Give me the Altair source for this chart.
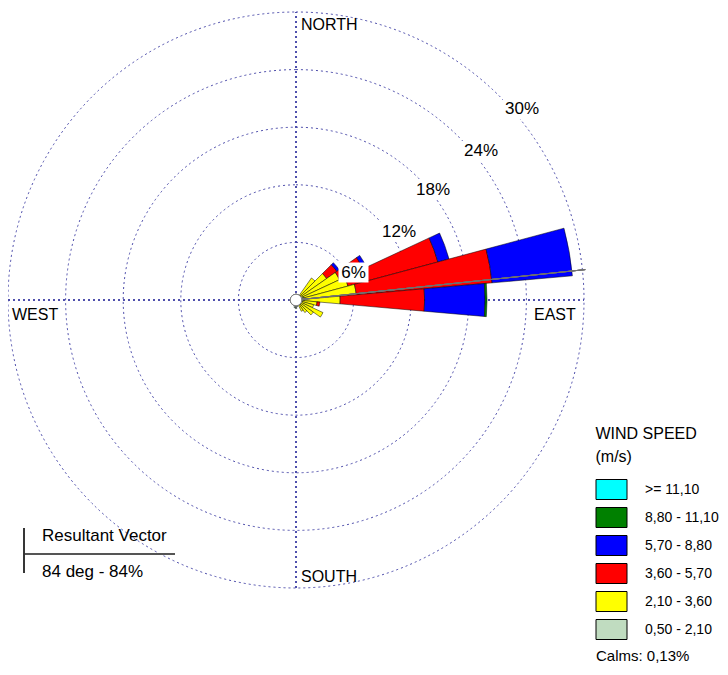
import math
import altair as alt
import pandas as pd

# ---------------- data ----------------
directions = [40, 50, 60, 70, 80, 90, 100, 110, 120, 130, 140, 150, 160, 170, 180, 190]
freq_050_210 = [0.5, 0.5, 0.6, 0.8, 0.9, 0.9, 0.7, 0.6, 0.6, 0.5, 0.5, 0.4, 0.5, 0.7, 0.9, 0.8]
freq_210_360 = [2.3, 3.4, 4.4, 4.8, 5.4, 3.7, 1.5, 1.3, 2.5, 1.7, 1.1, 0.9, 0.0, 0.0, 0.0, 0.0]
freq_360_570 = [0.0, 1.3, 2.7, 9.7, 14.2, 8.8, 0.3, 0.0, 0.0, 0.0, 0.0, 0.0, 0.0, 0.0, 0.0, 0.0]
freq_570_880 = [0.0, 0.3, 0.4, 1.2, 8.4, 6.3, 0.0, 0.0, 0.0, 0.0, 0.0, 0.0, 0.0, 0.0, 0.0, 0.0]
freq_880_1110 = [0.0, 0.0, 0.0, 0.0, 0.0, 0.2, 0.0, 0.0, 0.0, 0.0, 0.0, 0.0, 0.0, 0.0, 0.0, 0.0]
freq_ge_1110 = [0.0] * 16

speed_classes = ["0,50 - 2,10", "2,10 - 3,60", "3,60 - 5,70", "5,70 - 8,80", "8,80 - 11,10", ">= 11,10"]
legend_order = [">= 11,10", "8,80 - 11,10", "5,70 - 8,80", "3,60 - 5,70", "2,10 - 3,60", "0,50 - 2,10"]
legend_colors = ["#00FFFF", "#008000", "#0000FF", "#FF0000", "#FFFF00", "#C0DCC0"]

ring_levels = [6, 12, 18, 24, 30]
ring_texts = ["6%", "12%", "18%", "24%", "30%"]
compass_texts = ["NORTH", "EAST", "SOUTH", "WEST"]
calms_text = "Calms: 0,13%"
resultant_deg = 84
resultant_title = "Resultant Vector"
resultant_text = "84 deg - 84%"
sector_width = 10

# ---------------- build tables ----------------
series = [freq_050_210, freq_210_360, freq_360_570, freq_570_880, freq_880_1110, freq_ge_1110]
rows = []
for i, d in enumerate(directions):
    r0 = 0.0
    for cls, vals in zip(speed_classes, series):
        v = vals[i]
        if v > 0:
            rows.append(dict(dir=d, t1=d - sector_width / 2, t2=d + sector_width / 2,
                             r1=r0, r2=r0 + v, cls=cls))
            r0 += v
wedge_df = pd.DataFrame(rows)
ring_df = pd.DataFrame({"r": ring_levels})

# ---------------- layout ----------------
W, H = 712, 659
PX = 9.6          # pixels per percent
CX, CY = 288, 292  # centre of the rose in plot pixels
FONT = "Liberation Sans"
GRID = "#4B4BAA"

xs = alt.Scale(domain=[-CX / PX, (W - CX) / PX], nice=False, zero=False)
ys = alt.Scale(domain=[-(H - CY) / PX, CY / PX], nice=False, zero=False)
rs = alt.Scale(type="linear", domain=[0, 30], range=[0, 30 * PX], zero=True, nice=False)
ts = alt.Scale(domain=[0, 360], range=[0, 2 * math.pi], nice=False, zero=True)

cx = alt.XDatum(0, type="quantitative", scale=xs, axis=None)
cy = alt.YDatum(0, type="quantitative", scale=ys, axis=None)

rings = alt.Chart(ring_df).mark_arc(
    fillOpacity=0, stroke=GRID, strokeWidth=1, strokeDash=[2, 3]
).encode(
    x=cx, y=cy,
    radius=alt.Radius("r:Q", scale=rs, stack=False),
    theta=alt.ThetaDatum(0, type="quantitative", scale=ts),
    theta2=alt.Theta2Datum(360),
)

rmax = ring_levels[-1]
vline = alt.Chart(ring_df).mark_rule(stroke=GRID, strokeWidth=1, strokeDash=[2, 3]).encode(
    x=cx, y=alt.YDatum(-rmax, type="quantitative", scale=ys, axis=None), y2=alt.Y2Datum(rmax)
)
hline = alt.Chart(ring_df).mark_rule(stroke=GRID, strokeWidth=1, strokeDash=[2, 3]).encode(
    y=cy, x=alt.XDatum(-rmax, type="quantitative", scale=xs, axis=None), x2=alt.X2Datum(rmax)
)

wedges = alt.Chart(wedge_df).mark_arc(stroke="#000000", strokeWidth=0.5).encode(
    x=cx, y=cy,
    theta=alt.Theta("t1:Q", scale=ts, stack=False),
    theta2="t2:Q",
    radius=alt.Radius("r2:Q", scale=rs, stack=False),
    radius2="r1:Q",
    color=alt.Color(
        "cls:N",
        scale=alt.Scale(domain=legend_order, range=legend_colors),
        legend=alt.Legend(
            title=["WIND SPEED", "(m/s)"], orient="none", legendX=587.5, legendY=418,
            titleFont=FONT, titleFontSize=16, titleFontWeight="normal", titleColor="#000000",
            titleLineHeight=23, titlePadding=14,
            labelFont=FONT, labelFontSize=14, labelColor="#000000", labelOffset=28.5, labelLimit=200,
            symbolType="M-1,-1H2.1V1H-1Z", symbolSize=400, symbolStrokeColor="#000000",
            symbolStrokeWidth=1, symbolOpacity=1, rowPadding=3, padding=0,
        ),
    ),
)

res_len = 30.3
rx = res_len * math.sin(math.radians(resultant_deg))
ry = res_len * math.cos(math.radians(resultant_deg))
resultant = alt.Chart(ring_df).mark_rule(stroke="#707070", strokeWidth=1).encode(
    x=cx, y=cy, x2=alt.X2Datum(rx), y2=alt.Y2Datum(ry)
)

calm = alt.Chart(ring_df).mark_arc(fill="#FFFFFF", stroke="#808080", strokeWidth=1).encode(
    x=cx, y=cy,
    radius=alt.RadiusDatum(0.6, type="quantitative", scale=rs),
    theta=alt.ThetaDatum(0, type="quantitative", scale=ts),
    theta2=alt.Theta2Datum(360),
)

layers = [rings, vline, hline, wedges, resultant, calm]

# ring labels with white boxes
ring_pos = [(345.5, 264.5, 15), (391, 224, 19), (425, 182, 19), (473, 143, 19), (514, 101, 19)]
for txt, (px, py, hw) in zip(ring_texts, ring_pos):
    src = pd.DataFrame({"t": [txt]})
    layers.append(alt.Chart(src).mark_rect(fill="#FFFFFF").encode(
        x=alt.value(px - hw), x2=alt.value(px + hw), y=alt.value(py - 10), y2=alt.value(py + 10)))
    layers.append(alt.Chart(src).mark_text(
        font=FONT, fontSize=17, color="#000000", align="center", baseline="middle"
    ).encode(x=alt.value(px), y=alt.value(py), text="t:N"))

# compass labels
compass_pos = [(293, 22), (526, 312), (293, 574), (4, 312)]
for txt, (px, py) in zip(compass_texts, compass_pos):
    layers.append(alt.Chart(pd.DataFrame({"t": [txt]})).mark_text(
        font=FONT, fontSize=16, color="#000000", align="left", baseline="alphabetic"
    ).encode(x=alt.value(px), y=alt.value(py), text="t:N"))

# resultant vector box
layers.append(alt.Chart(pd.DataFrame({"t": [resultant_title]})).mark_text(
    font=FONT, fontSize=17, color="#000000", align="left", baseline="alphabetic"
).encode(x=alt.value(34), y=alt.value(533), text="t:N"))
layers.append(alt.Chart(pd.DataFrame({"t": [resultant_text]})).mark_text(
    font=FONT, fontSize=17, color="#000000", align="left", baseline="alphabetic"
).encode(x=alt.value(34), y=alt.value(569), text="t:N"))
layers.append(alt.Chart(ring_df).mark_rule(stroke="#505050", strokeWidth=1).encode(
    x=alt.value(16), x2=alt.value(167), y=alt.value(546)))
layers.append(alt.Chart(ring_df).mark_rule(stroke="#303030", strokeWidth=1).encode(
    x=alt.value(16), y=alt.value(520), y2=alt.value(565)))

# calms
layers.append(alt.Chart(pd.DataFrame({"t": [calms_text]})).mark_text(
    font=FONT, fontSize=15, color="#000000", align="left", baseline="alphabetic"
).encode(x=alt.value(588), y=alt.value(653), text="t:N"))

chart = alt.layer(*layers).properties(
    width=W, height=H, padding=0, autosize=alt.AutoSizeParams(type="none"),
    background="#FFFFFF",
).configure_view(strokeWidth=0)

chart.save("out.html", embed_options={"renderer": "svg", "actions": False})
